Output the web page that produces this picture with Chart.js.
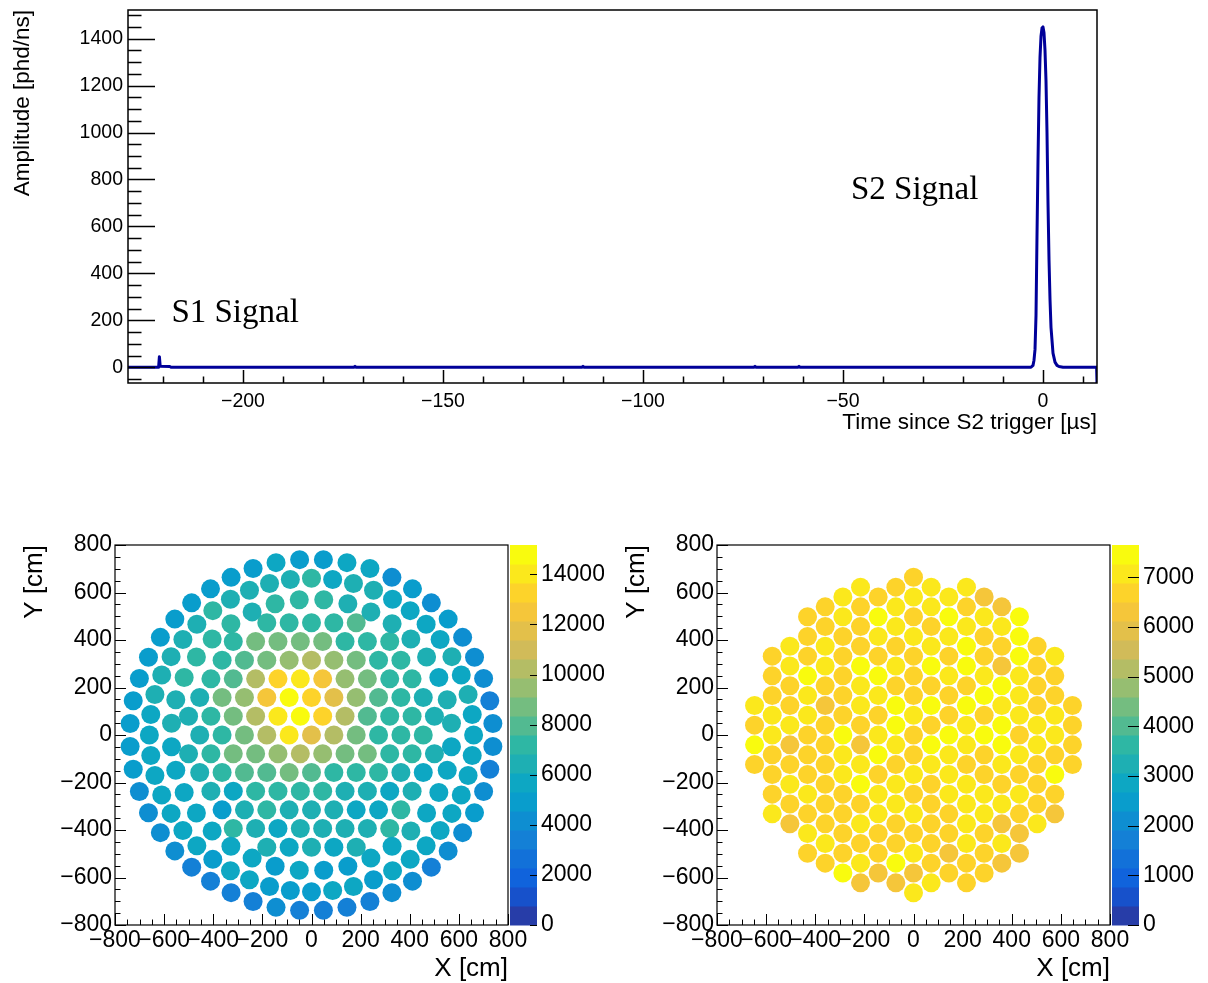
<!DOCTYPE html>
<html>
<head>
<meta charset="utf-8">
<script src="https://cdn.jsdelivr.net/npm/chart.js@4.4.1/dist/chart.umd.min.js"></script>
<style>
body { margin: 0; background: #fff; }
#wrap { position: relative; width: 1208px; height: 983px; }
canvas { position: absolute; }
</style>
</head>
<body>
<div id="wrap">
  <canvas id="wave" width="1208" height="450" style="left:0px;top:0px"></canvas>
  <canvas id="topPmt" width="604" height="483" style="left:0px;top:500px"></canvas>
  <canvas id="botPmt" width="604" height="483" style="left:602px;top:500px"></canvas>
</div>
<script>
// ---- waveform (time in us, amplitude in phd/ns) ----
const waveT = [-228.75, -221.1, -220.9, -220.7, -218.3, -218,
  -172.3, -172, -171.7, -115.3, -115, -114.7, -72.3, -72, -71.7, -61.3, -61, -60.7,
  -3, -2.5, -2.25, -2, -1.75, -1.5, -1.25, -1, -0.75, -0.5, -0.25, 0,
  0.25, 0.5, 0.75, 1, 1.25, 1.5, 1.75, 2, 2.5, 3, 3.5, 4, 5, 13.4, 13.5];
const waveA = [0, 0, 45, 4, 3, 0,
  0, 4, 0, 0, 4, 0, 0, 4, 0, 0, 4, 0,
  0, 8, 30, 75, 220, 560, 880, 1150, 1320, 1410, 1445, 1450,
  1425, 1350, 1220, 1000, 700, 460, 290, 170, 60, 22, 8, 3, 0, 0, -67];
const waveXTicks = [-200, -150, -100, -50, 0];
const waveYTicks = [0, 200, 400, 600, 800, 1000, 1200, 1400];

const noteText = ['S1 Signal', 'S2 Signal'];
const noteT = [-217.9, -48];
const noteA = [192, 715];

// ---- top PMT array: hex core rows (top row first) + three outer rings ----
const topHexPitch = 91;
const topHexRowStep = 78.8;
const topHexRows = [
  [7300, 7400, 7400, 7400, 8200],
  [7300, 8400, 9000, 9100, 9000, 7400, 7300, 7200],
  [7300, 7800, 9100, 9500, 10600, 9200, 9000, 7400, 7300],
  [7400, 7900, 9900, 13000, 13800, 12400, 9700, 8400, 7300, 7300],
  [6800, 8800, 9500, 12200, 15170, 13500, 11800, 9700, 7600, 7300, 6700],
  [6600, 7300, 8400, 9900, 13800, 14500, 13200, 9900, 8200, 7300, 7200, 6600],
  [6800, 7300, 9000, 10600, 14000, 11800, 10500, 9000, 7400, 7300, 7000],
  [6600, 7200, 8400, 9100, 9300, 9900, 9500, 9100, 8400, 7300, 7200, 6600],
  [6700, 7200, 7800, 8200, 8400, 7800, 7400, 7300, 6900, 6700, 5800],
  [6700, 5800, 7200, 7300, 6900, 7200, 6700, 6800, 5800, 6500],
  [5300, 6600, 7200, 6800, 6700, 6600, 5800, 5400, 7000],
  [7200, 6700, 5800, 6700, 6800, 6700, 6500, 6900],
  [6600, 5800, 6700, 5700, 6600]
];
const topRingR = [740, 660, 572];
const topRingStart = [3.75, 0, 5];   // degrees, clockwise from +Y
const topRing1 = [4900, 5400, 5400, 4500, 4900, 4200, 4900, 4000, 4000, 4300, 3600, 4300,
  4200, 3700, 3900, 4600, 4200, 4200, 3600, 4500, 3800, 3700, 3700, 3600,
  3600, 4200, 3600, 3700, 3600, 3600, 4200, 4100, 3900, 4200, 4900, 5000,
  5000, 5000, 4900, 4900, 4900, 5200, 5200, 4800, 4600, 5200, 5400, 4900];
const topRing2 = [7400, 5600, 6500, 6300, 5600, 5700, 5600, 5700, 6500, 5600, 6300, 5700,
  5700, 5600, 5600, 5400, 5400, 5600, 5400, 5400, 5400, 5300, 5500, 5500,
  5000, 5000, 5300, 5500, 5400, 5300, 5600, 5600, 5700, 5600, 5700, 6000,
  5600, 6000, 6300, 6500, 6300, 6500, 6500, 7200, 6600, 6600, 6600, 6600];
const topRing3 = [7300, 6700, 6400, 6800, 6600, 6700, 5900, 6400, 6600,
  5700, 5600, 5500, 5700, 6400, 5700, 5600, 5300, 5300,
  5500, 5300, 5500, 5600, 5700, 5500, 5700, 5900, 6000,
  6500, 6600, 7000, 7200, 7300, 7200, 6500, 7300, 7400];
const topZMax = 15170;
const topZTicks = [0, 2000, 4000, 6000, 8000, 10000, 12000, 14000];

// ---- bottom PMT array: hex columns, x = -9..9, listed top to bottom ----
const botColStep = 71.9;
const botPitch = 83;
const botColTop = [1.5, 4, 4.5, 6, 6.5, 7, 7.5, 7, 7.5, 8, 7.5, 7, 7.5, 7, 6.5, 6, 4.5, 4, 1.5];
const botCols = [
  [7100, 6700, 7450, 6700],
  [6700, 6650, 6750, 7100, 7150, 6700, 6650, 6700, 7100],
  [7100, 7050, 6700, 6650, 7100, 6300, 6700, 7100, 6700, 6300],
  [6700, 6650, 6750, 7450, 7100, 7050, 6700, 6700, 6650, 7100, 6700, 7100, 6700],
  [6700, 6650, 7100, 7050, 6700, 6300, 6700, 6700, 6650, 6700, 6750, 6700, 7100, 6700],
  [7100, 7050, 6700, 6650, 6700, 6750, 6700, 7450, 7100, 7050, 6700, 6650, 6700, 6700, 7450],
  [7100, 6700, 6650, 6700, 7450, 7100, 7050, 6700, 6300, 7100, 7450, 6700, 7100, 6700, 7100, 6300],
  [6700, 7450, 7100, 6700, 7450, 7100, 6700, 7100, 7450, 6700, 7100, 7050, 6700, 6650, 6300],
  [6700, 7100, 7050, 6700, 7100, 6700, 7450, 7500, 7100, 6700, 7100, 7050, 6700, 6650, 7450, 6300],
  [6700, 7100, 6700, 7100, 6650, 6700, 6750, 7100, 6700, 6700, 7100, 6700, 7100, 6700, 7100, 6300, 7100],
  [7100, 7050, 6700, 7100, 7450, 6700, 7500, 6700, 7450, 7100, 6700, 6650, 6700, 6750, 6700, 7100],
  [7100, 7450, 7100, 6700, 7100, 6700, 6650, 7450, 7100, 7050, 7100, 6700, 6700, 6300, 6700],
  [7100, 6700, 7100, 7450, 7450, 6700, 7500, 7100, 7100, 6700, 7100, 7050, 7100, 7100, 6700, 6650],
  [6300, 7100, 6700, 6650, 7100, 7450, 6700, 7450, 6700, 6650, 7100, 7050, 6700, 6700, 6700],
  [6300, 7100, 6700, 6300, 7450, 7100, 7450, 7500, 7100, 6700, 7100, 6300, 7100, 6300],
  [7450, 7500, 7450, 7100, 7050, 7100, 6700, 7100, 6700, 7100, 6700, 6300, 6300],
  [6700, 6650, 6700, 6700, 7100, 7100, 6700, 6650, 6700, 7100],
  [7100, 6700, 6650, 7100, 7100, 6700, 7450, 6700, 6300],
  [6700, 6650, 6700, 6700]
];
const botZMax = 7650;
const botZTicks = [0, 1000, 2000, 3000, 4000, 5000, 6000, 7000];

const pmtTicks = [-800, -600, -400, -200, 0, 200, 400, 600, 800];

// ---- ROOT kBird palette, 20 contour bands ----
const birdR = [0.2082, 0.0592, 0.0780, 0.0232, 0.1802, 0.5301, 0.8186, 0.9956, 0.9764];
const birdG = [0.1664, 0.3599, 0.5041, 0.6419, 0.7178, 0.7492, 0.7328, 0.7862, 0.9832];
const birdB = [0.5293, 0.8684, 0.8385, 0.7914, 0.6425, 0.4662, 0.3499, 0.1968, 0.0539];
const nBands = 20;

function bird(f) {
  const p = Math.min(7.9999, Math.max(0, f * 8));
  const i = Math.floor(p), t = p - i;
  const c = arr => Math.round(255 * (arr[i] + (arr[i + 1] - arr[i]) * t));
  return 'rgb(' + c(birdR) + ',' + c(birdG) + ',' + c(birdB) + ')';
}
function bandColor(i) {
  const k = Math.floor((i + 0.99) * 255 / nBands);
  return bird(k / 254);
}
function zColor(v, max) {
  return bandColor(Math.min(nBands - 1, Math.max(0, Math.floor(v / max * nBands))));
}

const fmt = v => (v < 0 ? '\u2212' : '') + Math.abs(v);
const fixTicks = list => s => { s.ticks = list.map(v => ({ value: v })); };
Chart.defaults.font.family = '"Liberation Sans", Arial, sans-serif';
Chart.defaults.color = '#000';

// inward ROOT style ticks + frame
const rootFrame = {
  id: 'rootFrame',
  afterDraw(chart, args, o) {
    const { ctx, chartArea: a, scales } = chart;
    ctx.save();
    ctx.strokeStyle = '#000';
    ctx.lineWidth = o.tickWidth;
    ctx.beginPath();
    const xs = scales.x, ys = scales.y;
    for (let n = Math.ceil(xs.min / o.xMinor); n * o.xMinor <= xs.max; n++) {
      const v = n * o.xMinor;
      const major = Math.abs(v / o.xMajor - Math.round(v / o.xMajor)) < 1e-6;
      const px = Math.round(xs.getPixelForValue(v)) + 0.5;
      ctx.moveTo(px, a.bottom);
      ctx.lineTo(px, a.bottom - (major ? o.xLen : o.xLen / 2));
    }
    for (let n = Math.ceil(ys.min / o.yMinor); n * o.yMinor <= ys.max; n++) {
      const v = n * o.yMinor;
      const major = Math.abs(v / o.yMajor - Math.round(v / o.yMajor)) < 1e-6;
      const py = Math.round(ys.getPixelForValue(v)) + 0.5;
      ctx.moveTo(a.left, py);
      ctx.lineTo(a.left + (major ? o.yLen : o.yLen / 2), py);
    }
    ctx.stroke();
    ctx.lineWidth = o.frameWidth;
    ctx.strokeRect(a.left, a.top, a.right - a.left, a.bottom - a.top);
    ctx.restore();
  }
};

// colour scale drawn along the z axis
const colorBar = {
  id: 'colorBar',
  afterDraw(chart, args, o) {
    const z = chart.scales.z, ctx = chart.ctx;
    if (!z) return;
    const x0 = z.left + o.gap;
    ctx.save();
    for (let i = 0; i < nBands; i++) {
      const yLo = z.getPixelForValue(i * z.max / nBands);
      const yHi = z.getPixelForValue((i + 1) * z.max / nBands);
      ctx.fillStyle = bandColor(i);
      ctx.fillRect(x0, yHi, o.width, yLo - yHi + 0.5);
    }
    ctx.strokeStyle = '#000';
    ctx.lineWidth = 1;
    ctx.beginPath();
    z.ticks.forEach(t => {
      const py = Math.round(z.getPixelForValue(t.value)) + 0.5;
      ctx.moveTo(x0 + o.width, py);
      ctx.lineTo(x0 + o.width - o.tickLen, py);
    });
    ctx.stroke();
    ctx.restore();
  }
};

const waveNotes = {
  id: 'waveNotes',
  afterDatasetsDraw(chart) {
    const { ctx, scales } = chart;
    ctx.save();
    ctx.fillStyle = '#000';
    ctx.font = '33px "Liberation Serif", "DejaVu Serif", serif';
    ctx.textAlign = 'left';
    ctx.textBaseline = 'alphabetic';
    noteText.forEach((s, i) => {
      ctx.fillText(s, scales.x.getPixelForValue(noteT[i]), scales.y.getPixelForValue(noteA[i]));
    });
    ctx.restore();
  }
};

new Chart(document.getElementById('wave'), {
  type: 'line',
  data: {
    datasets: [{
      data: waveT.map((t, i) => ({ x: t, y: waveA[i] })),
      borderColor: '#000099',
      borderWidth: 3,
      borderJoinStyle: 'round',
      pointRadius: 0,
      tension: 0
    }]
  },
  options: {
    responsive: false,
    animation: false,
    events: [],
    layout: { padding: { top: 10, right: 111, left: 0, bottom: 0 } },
    plugins: {
      legend: { display: false },
      tooltip: { enabled: false },
      rootFrame: { xMinor: 10, xMajor: 50, xLen: 13, yMinor: 50, yMajor: 200, yLen: 27, tickWidth: 1.5, frameWidth: 1.5 }
    },
    scales: {
      x: {
        type: 'linear', min: -228.75, max: 13.5,
        afterBuildTicks: fixTicks(waveXTicks),
        afterFit: s => { s.height = 67; s.paddingLeft = 0; s.paddingRight = 0; },
        grid: { display: false, drawTicks: false },
        border: { display: false },
        ticks: { autoSkip: false, maxRotation: 0, padding: 7, font: { size: 19.5 }, callback: fmt },
        title: { display: true, text: 'Time since S2 trigger [\u00b5s]', align: 'end', font: { size: 22.5, lineHeight: 1 }, padding: { top: 0, bottom: 16 } }
      },
      y: {
        type: 'linear', min: -67, max: 1522,
        afterBuildTicks: fixTicks(waveYTicks),
        afterFit: s => { s.width = 128; s.paddingTop = 0; s.paddingBottom = 0; },
        grid: { display: false, drawTicks: false },
        border: { display: false },
        ticks: { autoSkip: false, padding: 5, font: { size: 19.5 }, callback: fmt },
        title: { display: true, text: 'Amplitude [phd/ns]', align: 'end', font: { size: 22.5, lineHeight: 1 }, padding: { top: 12, bottom: 0 } }
      }
    }
  },
  plugins: [rootFrame, waveNotes]
});

function topArray() {
  const pts = [], vals = [];
  const mid = (topHexRows.length - 1) / 2;
  topHexRows.forEach((row, r) => {
    row.forEach((v, i) => {
      pts.push({ x: (i - (row.length - 1) / 2) * topHexPitch, y: (mid - r) * topHexRowStep });
      vals.push(v);
    });
  });
  [topRing1, topRing2, topRing3].forEach((ring, j) => {
    ring.forEach((v, i) => {
      const th = (topRingStart[j] + i * 360 / ring.length) * Math.PI / 180;
      pts.push({ x: topRingR[j] * Math.sin(th), y: topRingR[j] * Math.cos(th) });
      vals.push(v);
    });
  });
  return { pts, vals };
}

function botArray() {
  const pts = [], vals = [];
  botCols.forEach((col, c) => {
    col.forEach((v, i) => {
      pts.push({ x: (c - 9) * botColStep, y: (botColTop[c] - i) * botPitch });
      vals.push(v);
    });
  });
  return { pts, vals };
}

function pmtChart(id, arr, zMax, zTicks, cbTick) {
  new Chart(document.getElementById(id), {
    type: 'scatter',
    data: {
      datasets: [{
        data: arr.pts,
        pointBackgroundColor: arr.vals.map(v => zColor(v, zMax)),
        pointBorderWidth: 0,
        pointRadius: 9.5,
        pointHoverRadius: 9.5
      }]
    },
    options: {
      responsive: false,
      animation: false,
      events: [],
      layout: { padding: { top: 45, right: 0, left: 0, bottom: 0 } },
      plugins: {
        legend: { display: false },
        tooltip: { enabled: false },
        rootFrame: { xMinor: 50, xMajor: 200, xLen: 11, yMinor: 50, yMajor: 200, yLen: 11, tickWidth: 1, frameWidth: 1.2 },
        colorBar: { gap: 2, width: 27, tickLen: cbTick }
      },
      scales: {
        x: {
          type: 'linear', min: -800, max: 800,
          afterBuildTicks: fixTicks(pmtTicks),
          afterFit: s => { s.height = 58; s.paddingLeft = 0; s.paddingRight = 0; },
          grid: { display: false, drawTicks: false },
          border: { display: false },
          ticks: { autoSkip: false, maxRotation: 0, padding: 1.5, font: { size: 23 }, callback: fmt },
          title: { display: true, text: 'X [cm]', align: 'end', font: { size: 26, lineHeight: 1 }, padding: { top: 0, bottom: 1 } }
        },
        y: {
          type: 'linear', min: -800, max: 800,
          afterBuildTicks: fixTicks(pmtTicks),
          afterFit: s => { s.width = 115; s.paddingTop = 0; s.paddingBottom = 0; },
          grid: { display: false, drawTicks: false },
          border: { display: false },
          ticks: { autoSkip: false, padding: 3, font: { size: 23 }, callback: fmt },
          title: { display: true, text: 'Y [cm]', align: 'end', font: { size: 26, lineHeight: 1 }, padding: { top: 22, bottom: 0 } }
        },
        z: {
          type: 'linear', position: 'right', min: 0, max: zMax,
          afterBuildTicks: fixTicks(zTicks),
          afterFit: s => { s.width = 96; s.paddingTop = 0; s.paddingBottom = 0; },
          grid: { display: false, drawTicks: false },
          border: { display: false },
          ticks: { autoSkip: false, padding: 33, font: { size: 23 }, callback: fmt }
        }
      }
    },
    plugins: [rootFrame, colorBar]
  });
}

pmtChart('topPmt', topArray(), topZMax, topZTicks, 7);
pmtChart('botPmt', botArray(), botZMax, botZTicks, 11);
</script>
</body>
</html>
